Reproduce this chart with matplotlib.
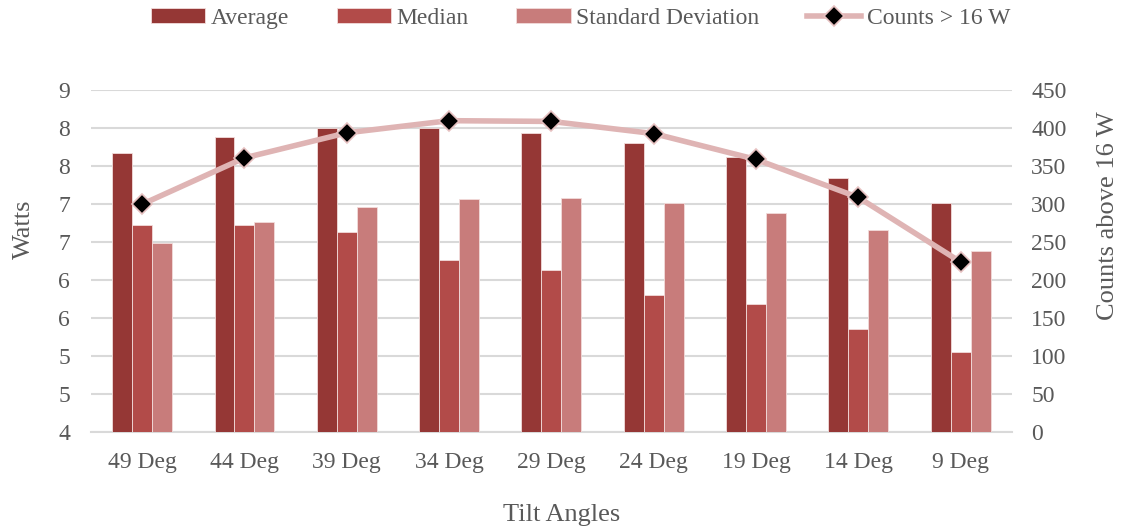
import math
import matplotlib
matplotlib.use("Agg")
import matplotlib.pyplot as plt
from matplotlib.ticker import FuncFormatter, MultipleLocator
import numpy as np

angles = ["49 Deg", "44 Deg", "39 Deg", "34 Deg", "29 Deg", "24 Deg", "19 Deg", "14 Deg", "9 Deg"]
average = [7.68, 7.89, 8.00, 8.01, 7.94, 7.81, 7.62, 7.34, 7.01]
median = [6.73, 6.73, 6.64, 6.26, 6.14, 5.81, 5.69, 5.36, 5.06]
std_dev = [6.49, 6.76, 6.96, 7.07, 7.08, 7.01, 6.88, 6.66, 6.39]
counts = [300, 361, 394, 410, 409, 393, 359, 309, 224]

plt.rcParams['font.family'] = ['Liberation Serif', 'DejaVu Serif']
grey = '#595959'

fig = plt.figure(figsize=(11.23, 5.31), dpi=100)
ax = fig.add_axes([0.081, 0.186, 0.820, 0.644])
ax2 = ax.twinx()

x = np.arange(len(angles))
w = 0.195
edge = '#f2dcdb'
b1 = ax.bar(x - w, average, w, color='#953735', edgecolor=edge, linewidth=0.6, zorder=3)
b2 = ax.bar(x, median, w, color='#b24b49', edgecolor=edge, linewidth=0.6, zorder=3)
b3 = ax.bar(x + w, std_dev, w, color='#c87c7b', edgecolor=edge, linewidth=0.6, zorder=3)

ln, = ax2.plot(x, counts, color='#dfb4b4', linewidth=4, marker='D', markersize=10,
               markerfacecolor='black', markeredgecolor='#e6c0c0', markeredgewidth=1.2,
               zorder=4)

ax.set_ylim(4, 8.5)
ax.yaxis.set_major_locator(MultipleLocator(0.5))
# whole-number labels, rounding halves up
ax.yaxis.set_major_formatter(FuncFormatter(lambda v, p: str(int(math.floor(v + 0.5)))))
ax2.set_ylim(0, 450)
ax2.yaxis.set_major_locator(MultipleLocator(50))
ax.set_xlim(-0.5, len(angles) - 0.5)

ax.grid(axis='y', color='#d9d9d9', linewidth=1.5, zorder=0)
ax.set_axisbelow(True)
for a in (ax, ax2):
    for s in a.spines.values():
        s.set_visible(False)
    a.tick_params(length=0, labelsize=17, labelcolor=grey)
ax.spines['bottom'].set_visible(True)
ax.spines['bottom'].set_color('#d9d9d9')
ax.spines['bottom'].set_linewidth(1.5)

ax.set_xticks(x)
ax.set_xticklabels(angles)
ax.tick_params(axis='x', pad=14)
ax.tick_params(axis='y', pad=15)
ax2.tick_params(axis='y', pad=14)

fig.text(0.500, 0.030, 'Tilt Angles', fontsize=19, color=grey, ha='center', va='center')
fig.text(0.021, 0.568, 'Watts', fontsize=19, color=grey, ha='center', va='center', rotation=90)
fig.text(0.987, 0.593, 'Counts above 16 W', fontsize=19, color=grey, ha='center', va='center',
         rotation=90)

fig.legend([b1, b2, b3, ln], ['Average', 'Median', 'Standard Deviation', 'Counts > 16 W'],
           loc='upper center', bbox_to_anchor=(0.517, 1.025), ncol=4, frameon=False,
           fontsize=17, labelcolor=grey, handlelength=2.3, handleheight=0.6,
           columnspacing=2.0, handletextpad=0.25)

fig.savefig('out.png', dpi=100)
